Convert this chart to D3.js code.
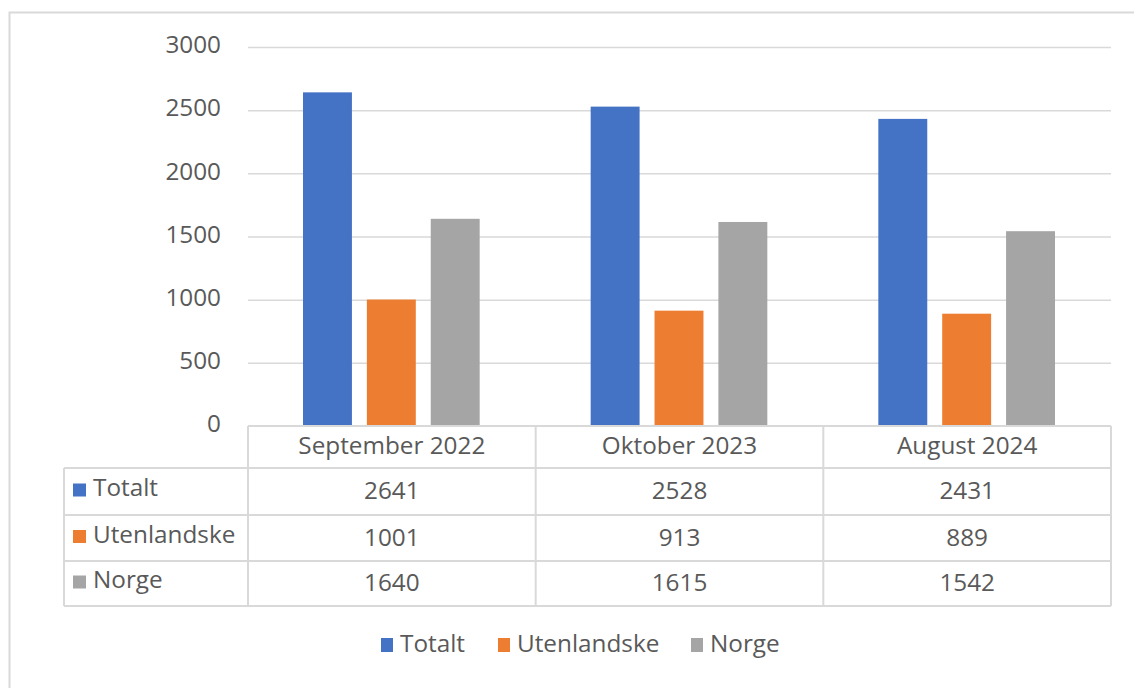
<!DOCTYPE html>
<html lang="no">
<head>
<meta charset="UTF-8">
<title>Totalt, Utenlandske, Norge</title>
<script src="https://d3js.org/d3.v7.min.js"></script>
<style>
  html, body { margin: 0; padding: 0; background: #fff; }
  svg { display: block; font-family: "Open Sans", "Noto Sans", sans-serif; }
</style>
</head>
<body>
<script>
const categories = ["September 2022", "Oktober 2023", "August 2024"];
const seriesNames = ["Totalt", "Utenlandske", "Norge"];
const totalt = [2641, 2528, 2431];
const utenlandske = [1001, 913, 889];
const norge = [1640, 1615, 1542];
const yTicks = [0, 500, 1000, 1500, 2000, 2500, 3000];
const colors = ["#4472c4", "#ed7d31", "#a5a5a5"];

const values = [totalt, utenlandske, norge];
const width = 1134, height = 688;
const textColor = "#595959";
const lineColor = "#d9d9d9";
const fontSize = 24.3;

const svg = d3.select("body").append("svg")
  .attr("width", width)
  .attr("height", height);

// outer chart frame
svg.append("rect")
  .attr("x", 9.5).attr("y", 12.5)
  .attr("width", 1140).attr("height", 700)
  .attr("fill", "none")
  .attr("stroke", "#d9d9d9")
  .attr("stroke-width", 2);

const plot = { left: 248, right: 1111, top: 47, bottom: 426 };

const x0 = d3.scaleBand()
  .domain(categories)
  .range([plot.left, plot.right]);

const x1 = d3.scaleBand()
  .domain(seriesNames)
  .range([55, x0.bandwidth() - 56])
  .paddingInner(0.234);

const y = d3.scaleLinear()
  .domain([0, 3000])
  .range([plot.bottom, plot.top]);

// gridlines
svg.append("g")
  .selectAll("line")
  .data(yTicks.filter(d => d > 0))
  .join("line")
  .attr("x1", plot.left).attr("x2", plot.right)
  .attr("y1", d => y(d) + 0.5).attr("y2", d => y(d) + 0.5)
  .attr("stroke", lineColor)
  .attr("stroke-width", 1.5);

// y axis labels
const yAxis = svg.append("g")
  .attr("transform", `translate(${221},-2)`)
  .call(d3.axisLeft(y).tickValues(yTicks).tickFormat(d3.format("d")).tickSize(0).tickPadding(0));
yAxis.select(".domain").remove();
yAxis.selectAll("text")
  .attr("fill", textColor)
  .attr("font-size", fontSize)
  .attr("font-family", "\"Open Sans\", \"Noto Sans\", sans-serif");

// bars
const groups = svg.append("g")
  .selectAll("g")
  .data(categories)
  .join("g")
  .attr("transform", d => `translate(${x0(d)},0)`);

groups.selectAll("rect")
  .data((c, i) => seriesNames.map((s, j) => ({ s, v: values[j][i], j })))
  .join("rect")
  .attr("x", d => x1(d.s))
  .attr("width", x1.bandwidth())
  .attr("y", d => y(d.v))
  .attr("height", d => y(0) - y(d.v))
  .attr("fill", d => colors[d.j]);

// data table
const tableLeft = 64;
const rowEdges = [426, 468, 515, 561, 606];
const table = svg.append("g")
  .attr("stroke", lineColor)
  .attr("stroke-width", 2)
  .attr("fill", "none");

rowEdges.forEach((ry, i) => {
  table.append("line")
    .attr("x1", i === 0 ? plot.left : tableLeft)
    .attr("x2", plot.right)
    .attr("y1", ry).attr("y2", ry);
});
table.append("line")
  .attr("x1", tableLeft).attr("x2", tableLeft)
  .attr("y1", rowEdges[1]).attr("y2", rowEdges[4]);
categories.forEach(c => {
  table.append("line")
    .attr("x1", x0(c)).attr("x2", x0(c))
    .attr("y1", rowEdges[0]).attr("y2", rowEdges[4]);
});
table.append("line")
  .attr("x1", plot.right).attr("x2", plot.right)
  .attr("y1", rowEdges[0]).attr("y2", rowEdges[4]);

const rowMid = i => (rowEdges[i] + rowEdges[i + 1]) / 2;

// header
svg.append("g")
  .selectAll("text")
  .data(categories)
  .join("text")
  .attr("x", d => x0(d) + x0.bandwidth() / 2)
  .attr("y", rowMid(0) - 2)
  .attr("dy", "0.35em")
  .attr("text-anchor", "middle")
  .attr("fill", textColor)
  .attr("font-size", fontSize)
  .text(d => d);

// row labels with keys
seriesNames.forEach((s, j) => {
  const cy = rowMid(j + 1);
  svg.append("rect")
    .attr("x", 73).attr("y", cy - 8)
    .attr("width", 13).attr("height", 13)
    .attr("fill", colors[j]);
  svg.append("text")
    .attr("x", 93).attr("y", cy - 4)
    .attr("dy", "0.35em")
    .attr("fill", textColor)
    .attr("font-size", fontSize)
    .text(s);
  svg.append("g")
    .selectAll("text")
    .data(categories)
    .join("text")
    .attr("x", d => x0(d) + x0.bandwidth() / 2)
    .attr("y", cy - 1)
    .attr("dy", "0.35em")
    .attr("text-anchor", "middle")
    .attr("fill", textColor)
    .attr("font-size", fontSize)
    .text((d, i) => values[j][i]);
});

// legend
const legendX = [381, 498, 691];
const legend = svg.append("g");
seriesNames.forEach((s, j) => {
  legend.append("rect")
    .attr("x", legendX[j]).attr("y", 638)
    .attr("width", 12).attr("height", 14)
    .attr("fill", colors[j]);
  legend.append("text")
    .attr("x", legendX[j] + 19).attr("y", 643)
    .attr("dy", "0.35em")
    .attr("fill", textColor)
    .attr("font-size", fontSize)
    .text(s);
});
</script>
</body>
</html>
